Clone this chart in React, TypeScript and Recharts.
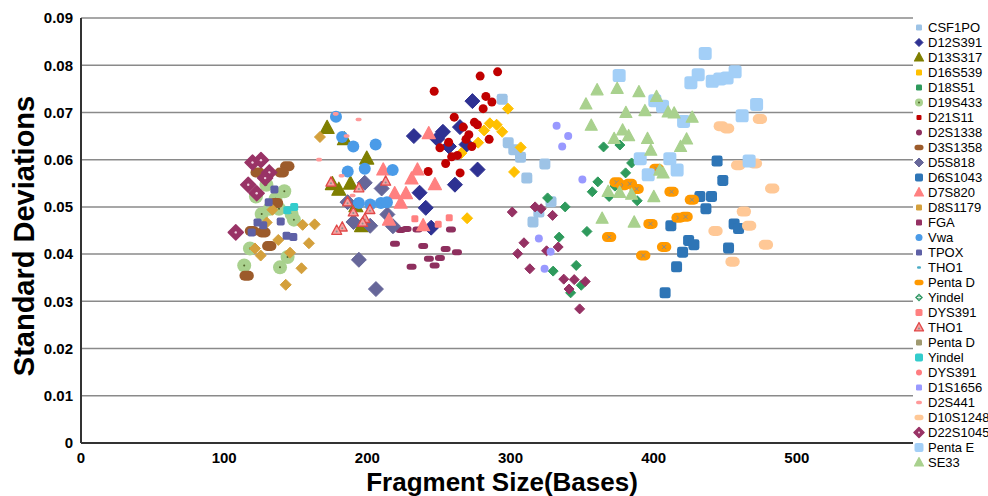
import React from 'react';
import { ScatterChart, Scatter, XAxis, YAxis, CartesianGrid, Label } from 'recharts';

type P = { x: number; y: number };
const mk = (a: number[][]): P[] => a.map(([x, y]) => ({ x, y }));

const xTicks = [0, 100, 200, 300, 400, 500];
const yTicks = [0, 0.01, 0.02, 0.03, 0.04, 0.05, 0.06, 0.07, 0.08, 0.09];

const CSF1PO = mk([[294.2,0.0728],[298.4,0.0636],[302.3,0.0621],[307.0,0.0605],[324.0,0.0591],[311.4,0.0561],[328.3,0.0511],[319.8,0.0489],[315.7,0.0468]]);
const D12S391 = mk([[273.4,0.0724],[232.5,0.0650],[252.8,0.0659],[248.8,0.0644],[264.7,0.0669],[257.0,0.0628],[269.3,0.0632],[277.0,0.0579],[261.2,0.0547],[236.5,0.0530],[240.8,0.0498],[244.6,0.0456]]);
const D13S317 = mk([[171.9,0.0667],[184.0,0.0643],[199.6,0.0602],[175.6,0.0548],[180.1,0.0536],[188.2,0.0549],[192.0,0.0501],[196.0,0.0459]]);
const D16S539 = mk([[298.2,0.0708],[285.6,0.0677],[290.3,0.0674],[281.6,0.0662],[294.2,0.0659],[277.4,0.0636],[307.1,0.0626],[265.7,0.0614],[302.5,0.0574],[269.7,0.0476]]);
const D18S51 = mk([[365.0,0.0627],[376.4,0.0631],[384.6,0.0593],[380.4,0.0572],[361.0,0.0553],[357.1,0.0532],[368.9,0.0522],[372.9,0.0544],[388.5,0.0513],[325.9,0.0519],[338.2,0.0500],[353.4,0.0448],[334.0,0.0436],[345.9,0.0376],[329.8,0.0364],[349.4,0.0334],[342.0,0.0318]]);
const D19S433 = mk([[129.5,0.0547],[142.0,0.0533],[135.8,0.0517],[122.2,0.0522],[131.9,0.0496],[138.3,0.0496],[147.1,0.0485],[148.7,0.0473],[126.2,0.0485],[118.0,0.0412],[114.0,0.0376],[139.0,0.0372],[144.3,0.0394]]);
const D21S11 = mk([[246.7,0.0745],[278.8,0.0777],[291.0,0.0786],[282.8,0.0734],[287.0,0.0722],[280.9,0.0708],[260.7,0.0690],[274.8,0.0679],[276.9,0.0674],[267.0,0.0669],[270.9,0.0653],[256.8,0.0637],[250.7,0.0625],[268.9,0.0643],[273.0,0.0628],[285.1,0.0643],[262.9,0.0609],[258.9,0.0606],[254.7,0.0592],[242.5,0.0575],[264.8,0.0572]]);
const D2S1338 = mk([[223.3,0.0451],[227.4,0.0453],[235.0,0.0452],[258.4,0.0452],[219.3,0.0422],[239.0,0.0417],[254.7,0.0411],[262.6,0.0404],[243.0,0.0390],[250.7,0.0392],[230.9,0.0373],[247.0,0.0376]]);
const D3S1358 = mk([[123.4,0.0573],[144.1,0.0586],[140.2,0.0573],[136.2,0.0508],[119.4,0.0449],[127.4,0.0446],[131.5,0.0417],[115.7,0.0354]]);
const D5S818 = mk([[198.2,0.0551],[210.0,0.0539],[186.2,0.0510],[214.0,0.0484],[190.3,0.0468],[202.0,0.0460],[217.9,0.0459],[194.1,0.0388],[206.0,0.0326]]);
const D6S1043 = mk([[444.3,0.0597],[448.3,0.0556],[432.3,0.0522],[440.4,0.0522],[436.5,0.0496],[412.0,0.0460],[456.2,0.0464],[459.3,0.0454],[424.4,0.0429],[428.1,0.0420],[452.3,0.0413],[420.2,0.0404],[416.0,0.0373],[408.0,0.0318]]);
const D7S820 = mk([[242.9,0.0655],[211.1,0.0578],[235.0,0.0578],[230.9,0.0559],[247.2,0.0547],[219.1,0.0528],[227.0,0.0528],[223.3,0.0508],[215.1,0.0472],[239.0,0.0460]]);
const D8S1179 = mk([[166.9,0.0648],[133.7,0.0494],[129.7,0.0467],[154.8,0.0462],[163.2,0.0463],[137.8,0.0430],[121.5,0.0412],[125.5,0.0397],[159.2,0.0423],[146.0,0.0403],[143.0,0.0335],[154.0,0.0370]]);
const FGA = mk([[301.2,0.0489],[317.2,0.0500],[321.4,0.0496],[329.4,0.0482],[309.4,0.0424],[305.0,0.0401],[325.2,0.0407],[333.3,0.0415],[313.5,0.0369],[337.2,0.0347],[344.5,0.0346],[352.2,0.0342],[340.9,0.0326],[348.3,0.0284]]);
const Vwa = mk([[178.1,0.0691],[182.4,0.0648],[190.2,0.0628],[205.8,0.0632],[186.3,0.0575],[198.2,0.0581],[217.7,0.0578],[194.1,0.0508],[202.0,0.0505],[209.5,0.0508],[213.7,0.0510]]);
const TPOX = mk([[135.1,0.0537],[131.1,0.0510],[139.5,0.0469],[123.3,0.0467],[127.3,0.0461],[119.2,0.0446],[143.6,0.0439],[148.3,0.0436]]);
const THO1a = mk([]);
const PentaDa = mk([[402.0,0.0581],[374.1,0.0552],[378.7,0.0546],[383.4,0.0549],[388.1,0.0538],[412.5,0.0532],[426.7,0.0515],[417.4,0.0477],[422.3,0.0479],[397.8,0.0464],[368.9,0.0436],[407.3,0.0415],[392.7,0.0397]]);
const YindelA = mk([]);
const DYS391a = mk([[233.2,0.0475],[249.5,0.0463],[257.2,0.0477]]);
const THO1b = mk([[174.6,0.0552],[194.1,0.0540],[212.8,0.0554],[186.2,0.0510],[190.2,0.0489],[201.8,0.0494],[198.3,0.0475],[196.7,0.0467],[182.5,0.0457],[178.6,0.0450]]);
const PentaDb = mk([]);
const YindelB = mk([[148.9,0.0500],[144.1,0.0493]]);
const DYS391b = mk([]);
const D1S1656 = mk([[332.2,0.0672],[340.3,0.0650],[336.1,0.0628],[350.2,0.0558],[319.8,0.0433],[328.0,0.0405],[323.8,0.0369]]);
const D2S441 = mk([[177.9,0.0697],[193.9,0.0685],[185.5,0.0650],[166.3,0.0600],[182.0,0.0566],[189.7,0.0524]]);
const D10S1248 = mk([[474.2,0.0686],[446.9,0.0671],[451.3,0.0666],[459.0,0.0588],[470.7,0.0592],[482.8,0.0539],[463.0,0.0490],[443.2,0.0449],[466.7,0.0460],[478.4,0.0420],[455.1,0.0384]]);
const D22S1045 = mk([[119.8,0.0594],[125.7,0.0599],[131.5,0.0573],[128.6,0.0561],[116.8,0.0547],[122.7,0.0529],[108.1,0.0446]]);
const PentaE = mk([[436.0,0.0825],[375.9,0.0778],[431.1,0.0780],[426.0,0.0763],[440.9,0.0766],[446.2,0.0771],[451.3,0.0773],[456.9,0.0786],[400.8,0.0725],[406.2,0.0713],[471.9,0.0717],[461.8,0.0693],[420.9,0.0681],[390.6,0.0602],[411.3,0.0602],[466.7,0.0597],[396.2,0.0568],[416.4,0.0578]]);
const SE33 = mk([[360.5,0.0747],[374.5,0.0750],[389.7,0.0743],[402.0,0.0733],[352.7,0.0717],[380.6,0.0699],[393.9,0.0703],[410.1,0.0700],[414.3,0.0698],[426.9,0.0689],[356.4,0.0672],[378.3,0.0662],[372.4,0.0644],[382.5,0.0650],[395.7,0.0644],[423.0,0.0643],[398.0,0.0619],[418.8,0.0627],[404.3,0.0577],[406.6,0.0571],[368.2,0.0532],[376.2,0.0530],[384.6,0.0526],[400.1,0.0521],[364.0,0.0475],[386.4,0.0467]]);

type Kind = 'square' | 'diamond' | 'triangle' | 'circle' | 'oval' | 'dash' | 'dotcircle' | 'dotdiamond' | 'xoval' | 'outlinetri' | 'crossdiamond';

interface SeriesCfg {
  name: string;
  data: P[];
  kind: Kind;
  color: string;
  size: number;
  lkind: Kind;
  lsize: number;
}

const series: SeriesCfg[] = [
  { name: 'CSF1PO', data: CSF1PO, kind: 'square', color: '#9DC3E6', size: 11, lkind: 'square', lsize: 6 },
  { name: 'D12S391', data: D12S391, kind: 'diamond', color: '#2E3192', size: 15, lkind: 'diamond', lsize: 8 },
  { name: 'D13S317', data: D13S317, kind: 'triangle', color: '#7F7F00', size: 14, lkind: 'triangle', lsize: 9 },
  { name: 'D16S539', data: D16S539, kind: 'diamond', color: '#FFC000', size: 11, lkind: 'square', lsize: 6 },
  { name: 'D18S51', data: D18S51, kind: 'diamond', color: '#2E9A5C', size: 10, lkind: 'square', lsize: 6 },
  { name: 'D19S433', data: D19S433, kind: 'dotcircle', color: '#A9D18E', size: 14, lkind: 'dotcircle', lsize: 8 },
  { name: 'D21S11', data: D21S11, kind: 'circle', color: '#C00000', size: 9, lkind: 'square', lsize: 5 },
  { name: 'D2S1338', data: D2S1338, kind: 'dash', color: '#8E2F5E', size: 10, lkind: 'circle', lsize: 6 },
  { name: 'D3S1358', data: D3S1358, kind: 'oval', color: '#9C5B2B', size: 10, lkind: 'dash', lsize: 9 },
  { name: 'D5S818', data: D5S818, kind: 'diamond', color: '#666699', size: 15, lkind: 'diamond', lsize: 9 },
  { name: 'D6S1043', data: D6S1043, kind: 'square', color: '#2E75B6', size: 11, lkind: 'square', lsize: 8 },
  { name: 'D7S820', data: D7S820, kind: 'triangle', color: '#FF8080', size: 13, lkind: 'triangle', lsize: 9 },
  { name: 'D8S1179', data: D8S1179, kind: 'diamond', color: '#D4A03C', size: 11, lkind: 'square', lsize: 6 },
  { name: 'FGA', data: FGA, kind: 'diamond', color: '#953163', size: 10, lkind: 'square', lsize: 6 },
  { name: 'Vwa', data: Vwa, kind: 'circle', color: '#4A9BE8', size: 12, lkind: 'circle', lsize: 7 },
  { name: 'TPOX', data: TPOX, kind: 'square', color: '#5E60A6', size: 8, lkind: 'square', lsize: 6 },
  { name: 'THO1', data: THO1a, kind: 'dash', color: '#4BACC6', size: 5, lkind: 'dash', lsize: 4 },
  { name: 'Penta D', data: PentaDa, kind: 'xoval', color: '#FF9900', size: 10, lkind: 'dash', lsize: 9 },
  { name: 'Yindel', data: YindelA, kind: 'crossdiamond', color: '#339966', size: 9, lkind: 'crossdiamond', lsize: 8 },
  { name: 'DYS391', data: DYS391a, kind: 'square', color: '#FF8080', size: 7, lkind: 'square', lsize: 7 },
  { name: 'THO1', data: THO1b, kind: 'outlinetri', color: '#F6A0A0', size: 10, lkind: 'outlinetri', lsize: 9 },
  { name: 'Penta D', data: PentaDb, kind: 'square', color: '#A09A70', size: 7, lkind: 'square', lsize: 6 },
  { name: 'Yindel', data: YindelB, kind: 'square', color: '#33CCCC', size: 8, lkind: 'square', lsize: 8 },
  { name: 'DYS391', data: DYS391b, kind: 'circle', color: '#FF7C80', size: 7, lkind: 'circle', lsize: 6 },
  { name: 'D1S1656', data: D1S1656, kind: 'circle', color: '#9999FF', size: 8, lkind: 'square', lsize: 6 },
  { name: 'D2S441', data: D2S441, kind: 'dash', color: '#FF9999', size: 6, lkind: 'dash', lsize: 6 },
  { name: 'D10S1248', data: D10S1248, kind: 'oval', color: '#FFC896', size: 10, lkind: 'dash', lsize: 9 },
  { name: 'D22S1045', data: D22S1045, kind: 'dotdiamond', color: '#993366', size: 15, lkind: 'dotdiamond', lsize: 10 },
  { name: 'Penta E', data: PentaE, kind: 'square', color: '#A3CFF7', size: 13, lkind: 'square', lsize: 9 },
  { name: 'SE33', data: SE33, kind: 'triangle', color: '#A9D18E', size: 12, lkind: 'triangle', lsize: 9 },
];

function Marker({ kind, cx, cy, color, size }: { kind: Kind; cx: number; cy: number; color: string; size: number }) {
  const s = size;
  const h = s / 2;
  switch (kind) {
    case 'square':
      return <rect x={cx - h} y={cy - h} width={s} height={s} rx={s * 0.22} fill={color} />;
    case 'diamond':
      return <polygon points={`${cx},${cy - h} ${cx + h},${cy} ${cx},${cy + h} ${cx - h},${cy}`} fill={color} stroke={color} strokeWidth={1} strokeLinejoin="round" />;
    case 'crossdiamond':
      return (
        <g>
          <polygon points={`${cx},${cy - h} ${cx + h},${cy} ${cx},${cy + h} ${cx - h},${cy}`} fill={color} />
          <path d={`M${cx - 2},${cy} L${cx + 2},${cy} M${cx},${cy - 2} L${cx},${cy + 2}`} stroke="#ffffff" strokeWidth={0.8} />
        </g>
      );
    case 'dotdiamond':
      return (
        <g>
          <polygon points={`${cx},${cy - h} ${cx + h},${cy} ${cx},${cy + h} ${cx - h},${cy}`} fill={color} stroke={color} strokeWidth={1.5} strokeLinejoin="round" />
          <circle cx={cx} cy={cy} r={Math.max(1, s * 0.08)} fill="#f0d0e0" />
        </g>
      );
    case 'triangle':
      return <polygon points={`${cx},${cy - s * 0.55} ${cx + h},${cy + s * 0.38} ${cx - h},${cy + s * 0.38}`} fill={color} stroke={color} strokeWidth={1.2} strokeLinejoin="round" />;
    case 'outlinetri':
      return (
        <g>
          <polygon points={`${cx},${cy - s * 0.55} ${cx + h},${cy + s * 0.38} ${cx - h},${cy + s * 0.38}`} fill={color} stroke="#E04848" strokeWidth={1.3} strokeLinejoin="round" />
          <circle cx={cx} cy={cy + 1} r={1} fill="#909090" />
        </g>
      );
    case 'circle':
      return <circle cx={cx} cy={cy} r={h} fill={color} />;
    case 'dotcircle':
      return (
        <g>
          <circle cx={cx} cy={cy} r={h} fill={color} />
          <circle cx={cx} cy={cy} r={1} fill="#4F6228" />
        </g>
      );
    case 'oval':
      return <rect x={cx - s * 0.72} y={cy - h} width={s * 1.44} height={s} rx={h} fill={color} />;
    case 'xoval':
      return (
        <g>
          <rect x={cx - s * 0.72} y={cy - h} width={s * 1.44} height={s} rx={h} fill={color} />
          <path d={`M${cx - 2},${cy - 2} L${cx + 2},${cy + 2} M${cx + 2},${cy - 2} L${cx - 2},${cy + 2}`} stroke="#8C8C8C" strokeWidth={1} />
        </g>
      );
    case 'dash':
      return <rect x={cx - h} y={cy - s * 0.3} width={s} height={s * 0.6} rx={s * 0.3} fill={color} />;
    default:
      return null;
  }
}

const FONT = "Arial, 'Liberation Sans', Helvetica, sans-serif";

function LegendBox() {
  return (
    <div
      style={{
        position: 'absolute',
        left: 913,
        top: 0,
        width: 75,
        height: 496,
        background: '#ffffff',
        overflow: 'hidden',
        fontFamily: FONT,
        fontSize: 13,
        color: '#000000',
      }}
    >
      {series.map((s, i) => (
        <div key={i} style={{ position: 'absolute', left: 0, top: 19.5 + i * 15, height: 15, width: 120, whiteSpace: 'nowrap' }}>
          <svg width={14} height={15} style={{ position: 'absolute', left: 0, top: 0 }}>
            <Marker kind={s.lkind} cx={6} cy={7.5} color={s.color} size={s.lsize} />
          </svg>
          <span style={{ position: 'absolute', left: 15, top: 0, lineHeight: '15px' }}>{s.name}</span>
        </div>
      ))}
    </div>
  );
}

const tickStyle = { fontFamily: FONT, fontSize: 15, fontWeight: 700, fill: '#000000' };

export default function App() {
  return (
    <div style={{ position: 'absolute', left: 0, top: 0, width: 988, height: 496, background: '#ffffff', overflow: 'hidden' }}>
      <ScatterChart width={988} height={496} margin={{ top: 18, right: 48, bottom: 0, left: 0 }}>
        <CartesianGrid horizontal vertical={false} stroke="#8A8A8A" strokeWidth={1.5} />
        <XAxis
          type="number"
          dataKey="x"
          domain={[0, 600]}
          ticks={xTicks}
          height={53}
          tickLine={false}
          tickSize={0}
          tickMargin={9}
          axisLine={{ stroke: '#333333', strokeWidth: 2 }}
          tick={tickStyle}
          interval={0}
        >
          <Label
            content={() => (
              <text x={502} y={491} textAnchor="middle" fontFamily={FONT} fontSize={26} fontWeight={700} fill="#000000">
                Fragment Size(Bases)
              </text>
            )}
          />
        </XAxis>
        <YAxis
          type="number"
          dataKey="y"
          domain={[0, 0.09]}
          ticks={yTicks}
          width={81}
          tickLine={false}
          tickSize={0}
          tickMargin={8}
          axisLine={{ stroke: '#333333', strokeWidth: 2 }}
          tick={tickStyle}
          interval={0}
          tickFormatter={(v: number) => (v === 0 ? '0' : v.toFixed(2))}
        >
          <Label
            content={() => (
              <text
                x={24}
                y={236}
                transform="rotate(-90 24 236)"
                textAnchor="middle"
                dominantBaseline="central"
                fontFamily={FONT}
                fontSize={29}
                fontWeight={700}
                fill="#000000"
              >
                Standard Deviations
              </text>
            )}
          />
        </YAxis>
        {series.map((s, i) => (
          <Scatter
            key={i}
            name={s.name}
            data={s.data}
            isAnimationActive={false}
            shape={(p: any) => <Marker kind={s.kind} cx={p.cx} cy={p.cy} color={s.color} size={s.size} />}
          />
        ))}
      </ScatterChart>
      <LegendBox />
    </div>
  );
}
